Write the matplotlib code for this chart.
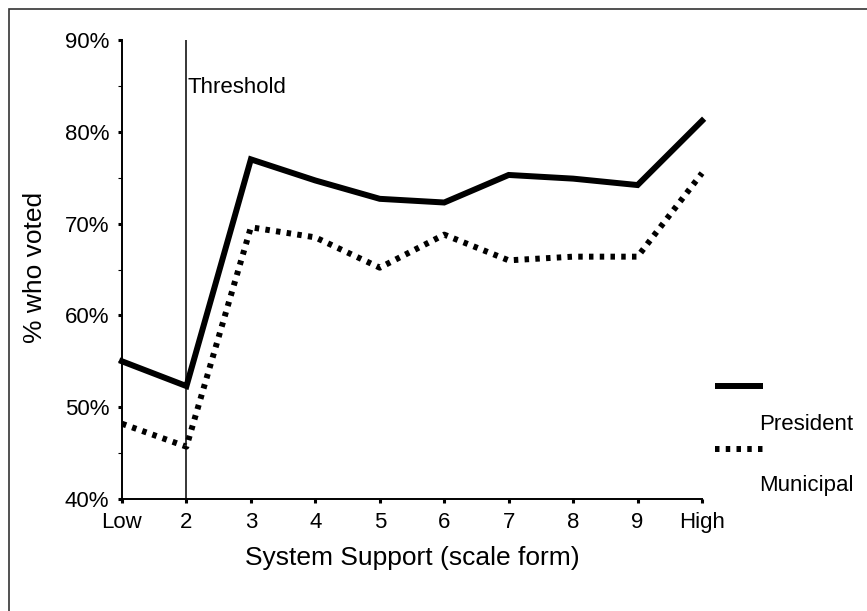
import matplotlib
matplotlib.use('Agg')
import matplotlib.pyplot as plt
from matplotlib.lines import Line2D
from matplotlib.patches import Rectangle

plt.rcParams['font.family'] = ['Liberation Sans', 'DejaVu Sans']

# Datos
support_levels = ['Low', '2', '3', '4', '5', '6', '7', '8', '9', 'High']
president = [55.0, 52.3, 77.0, 74.7, 72.7, 72.3, 75.3, 74.9, 74.2, 81.2]
municipal = [48.2, 45.7, 69.6, 68.5, 65.2, 68.8, 66.0, 66.4, 66.4, 75.5]
y_ticks = [40, 50, 60, 70, 80, 90]
y_minor = [45, 55, 65, 75, 85]
threshold_pos = 1

fig = plt.figure(figsize=(8.67, 6.11), dpi=100)
ax = fig.add_axes([0.1407, 0.1833, 0.669, 0.7512])

x = list(range(len(support_levels)))
ax.plot(x, president, color='black', lw=4.3, solid_joinstyle='miter', clip_on=False)
ax.plot(x, municipal, color='black', lw=4.3, linestyle=(0, (0.75, 1.05)),
        dash_capstyle='butt', clip_on=False)

# Linea del umbral
ax.axvline(threshold_pos, color='black', lw=1.1)
ax.text(threshold_pos + 0.01, 84.8, 'Threshold', fontsize=16, va='center', ha='left')

ax.set_xlim(0, len(support_levels) - 1)
ax.set_ylim(40, 90)
ax.set_xticks(x)
ax.set_xticklabels(support_levels, fontsize=16)
ax.set_yticks(y_ticks)
ax.set_yticklabels([f'{v}%' for v in y_ticks], fontsize=16)
ax.set_yticks(y_minor, minor=True)
ax.tick_params(axis='both', which='major', direction='out', length=3, width=2.2, pad=6)
ax.tick_params(axis='x', which='major', pad=6)
ax.tick_params(axis='y', which='minor', direction='out', length=3, width=0.8)
for s in ['top', 'right']:
    ax.spines[s].set_visible(False)
for s in ['left', 'bottom']:
    ax.spines[s].set_linewidth(1.4)

fig.text(0.040, 0.562, '% who voted', rotation=90, fontsize=19, ha='center', va='center')
fig.text(0.475, 0.087, 'System Support (scale form)', fontsize=19, ha='center', va='center')

# Leyenda manual
fig.add_artist(Line2D([0.8247, 0.880], [0.3683, 0.3683], color='black', lw=4.3,
                      solid_capstyle='butt'))
fig.text(0.8754, 0.306, 'President', fontsize=16, ha='left', va='center')
fig.add_artist(Line2D([0.8247, 0.880], [0.265, 0.265], color='black', lw=4.3,
                      linestyle=(0, (0.75, 1.05)), dash_capstyle='butt'))
fig.text(0.8754, 0.2046, 'Municipal', fontsize=16, ha='left', va='center')

# Marco exterior
fig.add_artist(Rectangle((9 / 867, -0.02), 1.05, 1.02 - 9 / 611, transform=fig.transFigure,
                         fill=False, edgecolor='#333333', lw=1.2))

fig.savefig('out.png', dpi=100)
